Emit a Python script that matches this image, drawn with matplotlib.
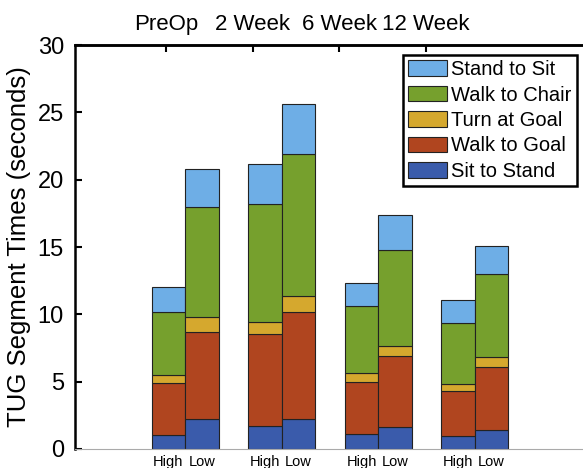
import numpy as np
import matplotlib.pyplot as plt

plt.rcParams['font.family'] = ['Liberation Sans', 'DejaVu Sans']

groups = ['PreOp', '2 Week', '6 Week', '12 Week']
levels = ['High', 'Low']
segments = ['Sit to Stand', 'Walk to Goal', 'Turn at Goal', 'Walk to Chair', 'Stand to Sit']
colors = ['#3a5bab', '#b0451f', '#d5a82e', '#76a02d', '#6eaee6']

# segment times (s), per timepoint
sit_high = [1.04, 1.73, 1.11, 0.97]
sit_low = [2.20, 2.20, 1.61, 1.41]
walkgoal_high = [3.84, 6.81, 3.84, 3.36]
walkgoal_low = [6.51, 7.99, 5.29, 4.68]
turn_high = [0.61, 0.91, 0.67, 0.50]
turn_low = [1.11, 1.19, 0.77, 0.76]
walkchair_high = [4.71, 8.74, 5.02, 4.50]
walkchair_low = [8.12, 10.55, 7.08, 6.12]
standsit_high = [1.85, 2.94, 1.71, 1.75]
standsit_low = [2.82, 3.67, 2.65, 2.10]

high = [sit_high, walkgoal_high, turn_high, walkchair_high, standsit_high]
low = [sit_low, walkgoal_low, turn_low, walkchair_low, standsit_low]

fig = plt.figure(figsize=(5.83, 4.68), dpi=100)
ax = fig.add_axes([0.1286, 0.0406, 0.8714, 0.8632])

x = np.arange(len(groups))
w = 0.347
handles = []
for data, off in [(high, -w / 2), (low, w / 2)]:
    bottom = np.zeros(len(groups))
    for k in range(len(segments)):
        b = ax.bar(x + off, data[k], w, bottom=bottom, color=colors[k],
                   edgecolor='#222222', linewidth=0.8, label=segments[k])
        bottom += np.array(data[k])
        if off < 0:
            handles.append(b)

ax.set_xlim(-1.14, 4.12)
ax.set_ylim(0, 30)
ax.set_yticks([0, 5, 10, 15, 20, 25, 30])
ax.tick_params(axis='y', direction='in', length=5, width=1.5, labelsize=17, pad=8)
ax.set_xticks(np.concatenate([x - w / 2, x + w / 2]))
ax.set_xticklabels(levels[:1] * 4 + levels[1:] * 4, fontsize=10.5)
ax.tick_params(axis='x', length=0, pad=4)
ax.set_ylabel('TUG Segment Times (seconds)', fontsize=18.5, labelpad=5)

for s in ['left', 'top']:
    ax.spines[s].set_linewidth(1.8)
    ax.spines[s].set_color('black')
ax.spines['right'].set_visible(False)
ax.spines['bottom'].set_color('#aaaaaa')
ax.spines['bottom'].set_linewidth(0.8)

# separate top axis with the timepoint labels
ax2 = ax.twiny()
ax2.set_xlim(-0.05, 5.81)
ax2.set_xticks([1, 2, 3, 4])
ax2.set_xticklabels(groups, fontsize=16)
ax2.tick_params(axis='x', direction='in', length=5, width=1.5, pad=7)
for s in ['left', 'right', 'bottom']:
    ax2.spines[s].set_visible(False)
ax2.spines['top'].set_linewidth(1.8)

leg = ax.legend(handles[::-1], segments[::-1], loc='upper right',
                bbox_to_anchor=(0.988, 0.975), fontsize=14.5, frameon=True,
                fancybox=False, edgecolor='black', framealpha=1,
                handlelength=1.95, handleheight=0.8, handletextpad=0.2,
                labelspacing=0.32, borderpad=0.25, borderaxespad=0)
leg.get_frame().set_linewidth(1.8)

fig.savefig('out.png', dpi=100)
